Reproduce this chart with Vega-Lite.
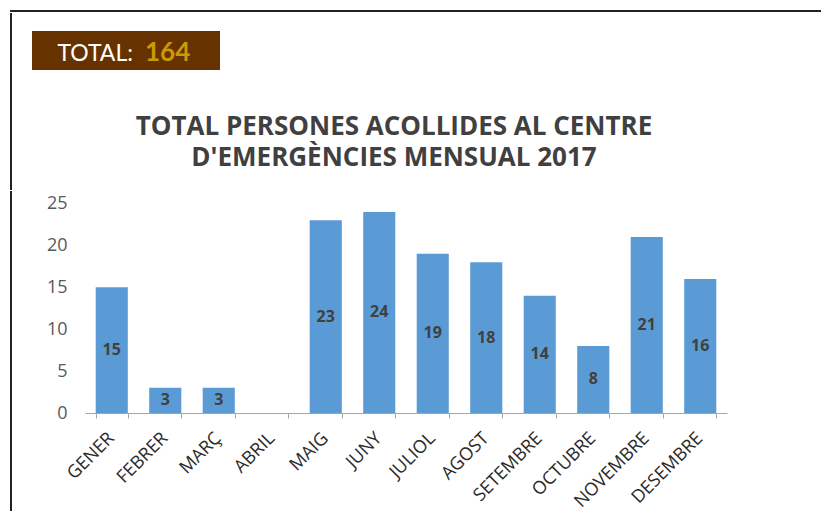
{
  "$schema": "https://vega.github.io/schema/vega-lite/v6.json",
  "background": "white",
  "padding": {"left": 9, "top": 9, "right": 0, "bottom": 0},
  "config": {"view": {"stroke": null}, "concat": {"spacing": 0}},
  "spacing": 0,
  "vconcat": [
    {
      "width": 812, "height": 2,
      "view": {"fill": "#222222", "stroke": null},
      "data": {"values": [{}]},
      "mark": {"type": "rule", "opacity": 0},
      "encoding": {}
    },
    {
      "spacing": 19,
      "hconcat": [
        {
          "width": 2, "height": 177,
          "view": {"fill": "#222222", "stroke": null},
          "data": {"values": [{}]},
          "mark": {"type": "rule", "opacity": 0},
          "encoding": {}
        },
        {
          "spacing": 17,
          "vconcat": [
            {
              "width": 188, "height": 1,
              "data": {"values": [{}]},
              "mark": {"type": "rule", "opacity": 0},
              "encoding": {}
            },
            {
              "width": 188, "height": 39,
              "view": {"fill": "#663300", "stroke": null},
              "data": {"values": [{"label": "TOTAL:", "total": 164}]},
              "layer": [
                {
                  "mark": {"type": "text", "align": "right", "baseline": "alphabetic", "dx": 7, "dy": 10, "font": "Lato", "fontSize": 23, "color": "white"},
                  "encoding": {"text": {"field": "label"}}
                },
                {
                  "mark": {"type": "text", "align": "left", "baseline": "alphabetic", "dx": 19, "dy": 10, "font": "Lato", "fontSize": 26, "fontWeight": "bold", "color": "#cc9a06"},
                  "encoding": {"text": {"field": "total"}}
                }
              ]
            },
            {
              "width": 724, "height": 98,
              "data": {"values": [{"titol": ["TOTAL PERSONES ACOLLIDES AL CENTRE", "D'EMERGÈNCIES MENSUAL 2017"]}]},
              "mark": {"type": "text", "font": "Open Sans", "fontSize": 26, "fontWeight": "bold", "color": "#404040", "lineHeight": 31, "baseline": "middle", "align": "center", "dy": -9},
              "encoding": {"text": {"field": "titol"}}
            }
          ]
        }
      ]
    },
    {
      "spacing": 19,
      "hconcat": [
        {
          "width": 2, "height": 328,
          "view": {"fill": "#222222", "stroke": null},
          "data": {"values": [{}]},
          "mark": {"type": "rule", "opacity": 0},
          "encoding": {}
        },
        {
          "width": 642, "height": 222,
          "data": {"values": [
            {"mes": "GENER", "n": 15},
            {"mes": "FEBRER", "n": 3},
            {"mes": "MARÇ", "n": 3},
            {"mes": "ABRIL", "n": 0},
            {"mes": "MAIG", "n": 23},
            {"mes": "JUNY", "n": 24},
            {"mes": "JULIOL", "n": 19},
            {"mes": "AGOST", "n": 18},
            {"mes": "SETEMBRE", "n": 14},
            {"mes": "OCTUBRE", "n": 8},
            {"mes": "NOVEMBRE", "n": 21},
            {"mes": "DESEMBRE", "n": 16}
          ]},
          "encoding": {
            "x": {
              "field": "mes", "type": "nominal", "sort": null,
              "scale": {"paddingInner": 0.4, "paddingOuter": 0.2},
              "axis": {
                "title": null, "tickBand": "extent", "domainColor": "#a6a6a6", "tickColor": "#a6a6a6",
                "tickSize": 5, "labelAngle": -45, "labelFont": "Open Sans", "labelFontSize": 18,
                "labelColor": "#2b2b2b", "labelPadding": 11, "labelOffset": -7
              }
            }
          },
          "layer": [
            {
              "mark": {"type": "bar", "color": "#5b9bd5"},
              "encoding": {
                "y": {
                  "field": "n", "type": "quantitative", "scale": {"domain": [0, 26.5], "nice": false},
                  "axis": {
                    "title": null, "values": [0, 5, 10, 15, 20, 25], "ticks": false, "domain": false,
                    "grid": false, "labelFont": "Open Sans", "labelFontSize": 18, "labelColor": "#595959",
                    "labelPadding": 18, "minExtent": 54
                  }
                }
              }
            },
            {
              "mark": {"type": "text", "font": "Open Sans", "fontSize": 16, "fontWeight": "bold", "color": "#404040", "baseline": "middle"},
              "encoding": {
                "y": {"field": "n", "type": "quantitative", "scale": {"domain": [0, 53], "nice": false}, "axis": null},
                "text": {"field": "n"},
                "opacity": {"condition": {"test": "datum.n == 0", "value": 0}, "value": 1}
              }
            }
          ],
          "resolve": {"scale": {"y": "independent"}}
        }
      ]
    }
  ]
}
